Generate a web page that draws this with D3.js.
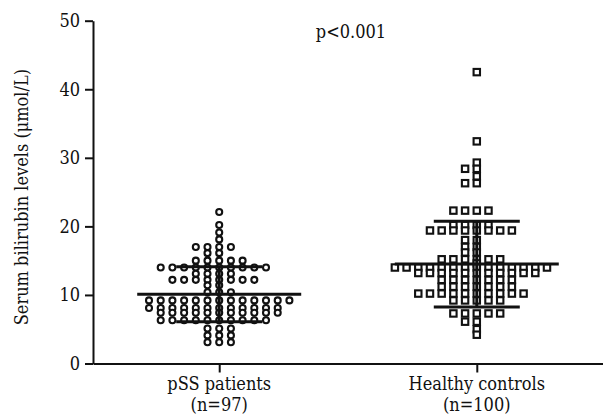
<!DOCTYPE html>
<html>
<head>
<meta charset="utf-8">
<script src="https://cdn.jsdelivr.net/npm/d3@7"></script>
<style>
  body { margin: 0; background: #fff; }
  text { font-family: "DejaVu Serif Condensed", "DejaVu Serif", serif; font-stretch: condensed; fill: #111; }
</style>
</head>
<body>
<script>
var categories = ["pSS patients", "Healthy controls"];
var groupSizes = ["(n=97)", "(n=100)"];

// serum bilirubin (umol/L)
var pssValues = [
  22.1, 20.2, 19.1, 18.1,
  17.0, 17.0, 17.0, 17.0,
  16.1, 16.1,
  15.0, 15.0, 15.0, 15.0, 15.0,
  14.0, 14.0, 14.0, 14.0, 14.0, 14.0, 14.0, 14.0, 14.0, 14.0,
  13.1, 13.1, 13.1, 13.1,
  12.2, 12.2, 12.2, 12.2, 12.2, 12.2, 12.2, 12.2,
  11.4, 11.4,
  10.4, 10.4, 10.4,
  9.2, 9.2, 9.2, 9.2, 9.2, 9.2, 9.2, 9.2, 9.2, 9.2, 9.2, 9.2, 9.2,
  8.1, 8.1, 8.1, 8.1, 8.1, 8.1, 8.1, 8.1, 8.1, 8.1, 8.1, 8.1,
  7.4, 7.4, 7.4, 7.4, 7.4, 7.4, 7.4, 7.4, 7.4, 7.4, 7.4,
  6.3, 6.3, 6.3, 6.3, 6.3, 6.3, 6.3, 6.3, 6.3, 6.3,
  5.1, 5.1, 5.1,
  4.1, 4.1, 4.1,
  3.1, 3.1, 3.1
];

var controlValues = [
  42.5, 32.4, 29.3, 28.4, 28.4, 27.3, 26.3, 26.3,
  22.3, 22.3, 22.3, 22.3,
  20.2, 20.2, 20.2, 20.2,
  19.4, 19.4, 19.4, 19.4, 19.4, 19.4, 19.4, 19.4,
  18.0, 18.0, 17.0, 17.0, 16.2, 16.2,
  15.2, 15.2, 15.2, 15.2, 15.2, 15.2,
  14.6,
  14.0, 14.0, 14.0, 14.0, 14.0, 14.0, 14.0, 14.0, 14.0, 14.0, 14.0, 14.0, 14.0, 14.0,
  13.2, 13.2, 13.2, 13.2, 13.2, 13.2, 13.2, 13.2, 13.2, 13.2, 13.2,
  12.2, 12.2, 12.2, 12.2, 12.2, 12.2, 12.2,
  11.2, 11.2, 11.2, 11.2, 11.2, 11.2, 11.2,
  10.2, 10.2, 10.2, 10.2, 10.2, 10.2, 10.2, 10.2, 10.2, 10.2,
  9.2, 9.2, 9.2, 9.2, 9.2,
  7.3, 7.3, 7.3, 7.3, 7.3,
  6.1, 6.1, 5.0, 4.2
];

var means = [10.1, 14.5];
var sds = [4.0, 6.25];
var yTicks = [0, 10, 20, 30, 40, 50];
var pLabel = "p<0.001";

var width = 603, height = 419;
var margin = { top: 20.7, right: 0, bottom: 55.5, left: 93 };
var slot = 11.7; // horizontal distance between dots in one row

var svg = d3.select("body").append("svg")
  .attr("width", width)
  .attr("height", height);

var y = d3.scaleLinear()
  .domain([0, 50])
  .range([height - margin.bottom, margin.top]);

var x = d3.scalePoint()
  .domain(categories)
  .range([margin.left, width - margin.right])
  .padding(0.49);

// spread equal values side by side, like a scatter dot plot
function rows(values) {
  var out = [];
  d3.group(values, function (d) { return d; }).forEach(function (row, v) {
    var n = row.length;
    row.forEach(function (d, i) { out.push({ value: v, k: i - Math.floor(n / 2) }); });
  });
  return out;
}

var pss = rows(pssValues);
var ctl = rows(controlValues);

svg.append("g").selectAll("circle")
  .data(pss)
  .enter().append("circle")
  .attr("cx", function (d) { return x(categories[0]) + d.k * slot; })
  .attr("cy", function (d) { return y(d.value); })
  .attr("r", 3)
  .attr("fill", "#fff")
  .attr("stroke", "#111")
  .attr("stroke-width", 2.1);

svg.append("g").selectAll("rect")
  .data(ctl)
  .enter().append("rect")
  .attr("x", function (d) { return x(categories[1]) + d.k * slot - 3.2; })
  .attr("y", function (d) { return y(d.value) - 3.2; })
  .attr("width", 6.4)
  .attr("height", 6.4)
  .attr("fill", "#fff")
  .attr("stroke", "#111")
  .attr("stroke-width", 2.1);

// mean and SD bars
var bars = svg.append("g").selectAll("g")
  .data(categories)
  .enter().append("g")
  .attr("stroke", "#111")
  .attr("stroke-width", 3);

bars.append("line") // mean
  .attr("x1", function (d) { return x(d) - 82; })
  .attr("x2", function (d) { return x(d) + 82; })
  .attr("y1", function (d, i) { return y(means[i]); })
  .attr("y2", function (d, i) { return y(means[i]); });

bars.append("line")
  .attr("x1", function (d) { return x(d); })
  .attr("x2", function (d) { return x(d); })
  .attr("y1", function (d, i) { return y(means[i] - sds[i]); })
  .attr("y2", function (d, i) { return y(means[i] + sds[i]); });

[-1, 1].forEach(function (s) {
  bars.append("line")
    .attr("x1", function (d) { return x(d) - 43; })
    .attr("x2", function (d) { return x(d) + 43; })
    .attr("y1", function (d, i) { return y(means[i] + s * sds[i]); })
    .attr("y2", function (d, i) { return y(means[i] + s * sds[i]); });
});

// axes
var yAxis = svg.append("g")
  .attr("transform", "translate(" + margin.left + ",0)")
  .call(d3.axisLeft(y).tickValues(yTicks).tickSize(8).tickSizeOuter(0).tickPadding(5));

var xAxis = svg.append("g")
  .attr("transform", "translate(0," + y(0) + ")")
  .call(d3.axisBottom(x).tickSize(9).tickSizeOuter(0).tickFormat(""));

[yAxis, xAxis].forEach(function (g) {
  g.selectAll("path, line").attr("stroke", "#111").attr("stroke-width", 2);
  g.selectAll("text").attr("font-size", 18).attr("font-family", null).attr("fill", "#111");
});

var labels = svg.append("g").selectAll("text")
  .data(categories)
  .enter().append("text")
  .attr("text-anchor", "middle")
  .attr("font-size", 18);
labels.append("tspan")
  .attr("x", function (d) { return x(d); })
  .attr("y", 390)
  .text(function (d) { return d; });
labels.append("tspan")
  .attr("x", function (d) { return x(d); })
  .attr("y", 411)
  .text(function (d, i) { return groupSizes[i]; });

svg.append("text")
  .attr("x", 351)
  .attr("y", 38)
  .attr("text-anchor", "middle")
  .attr("font-size", 18)
  .text(pLabel);

svg.append("text")
  .attr("transform", "translate(28," + ((y(0) + y(50)) / 2 + 5) + ") rotate(-90)")
  .attr("text-anchor", "middle")
  .attr("font-size", 18)
  .text("Serum bilirubin levels (\u03bcmol/L)");
</script>
</body>
</html>
